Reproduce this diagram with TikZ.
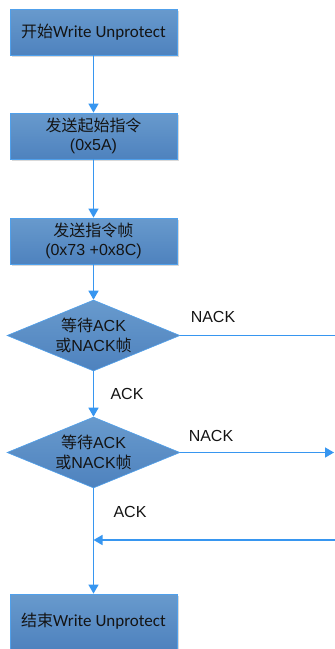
\documentclass[tikz,border=0pt]{standalone}
\usepackage{fontspec}
\setmainfont{Liberation Sans}
\newfontfamily\cjkfont{Noto Sans CJK SC}
\newfontfamily\calfont{Carlito}
\usetikzlibrary{shapes.geometric,arrows.meta,shadows}
\definecolor{boxtop}{RGB}{104,154,205}
\definecolor{boxbot}{RGB}{78,130,190}
\definecolor{boxedge}{RGB}{80,160,235}
\definecolor{arr}{RGB}{55,150,240}
\definecolor{txt}{RGB}{20,20,20}
\begin{document}
\begin{tikzpicture}[x=1pt,y=-1pt,
  every node/.style={text=txt,font=\fontsize{16}{19.5}\selectfont},
  procbox/.style={rectangle,minimum width=167pt,minimum height=46pt,inner sep=0pt,
    top color=boxtop,bottom color=boxbot,draw=boxedge,line width=0.8pt,align=center,
    drop shadow={shadow xshift=2pt,shadow yshift=-2pt,fill=black,opacity=0.15}},
  decbox/.style={diamond,aspect=2.44,minimum width=173pt,minimum height=71pt,inner sep=0pt,
    top color=boxtop,bottom color=boxbot,draw=boxedge,line width=0.6pt,align=center},
  conn/.style={draw=arr,line width=1.5pt},
  arrowc/.style={conn,-{Triangle[length=9pt,width=10pt]}},
  lbl/.style={font=\fontsize{16}{19}\selectfont}
]
\useasboundingbox (0,0) rectangle (335,649);
\node[procbox] (b1) at (93.5,32) {{\cjkfont 开始}{\calfont\fontsize{17}{20}\selectfont Write Unprotect}};
\node[procbox] (b2) at (93.5,136) {{\cjkfont 发送起始指令}\\(0x5A)};
\node[procbox] (b3) at (93.5,241) {{\cjkfont 发送指令帧}\\(0x73 +0x8C)};
\node[decbox] (d1) at (93.5,335.5) {{\cjkfont 等待}ACK\\{\cjkfont 或}NACK{\cjkfont 帧}};
\node[decbox] (d2) at (93.5,452.5) {{\cjkfont 等待}ACK\\{\cjkfont 或}NACK{\cjkfont 帧}};
\node[procbox,minimum height=55pt] (b4) at (93.5,621.5) {{\cjkfont 结束}{\calfont\fontsize{17}{20}\selectfont Write Unprotect}};
\coordinate (r1) at (335,335.5);
\coordinate (r2) at (334,452.5);
\coordinate (r3) at (335,540);
\coordinate (m) at (93.5,540);
\draw[arrowc] (b1) -- (b2);
\draw[arrowc] (b2) -- (b3);
\draw[arrowc] (b3) -- (d1);
\draw[arrowc] (d1) -- (d2);
\draw[conn] (d1.east) -- (r1);
\draw[arrowc] (d2.east) -- (r2);
\draw[arrowc] (d2) -- (b4);
\draw[arrowc] (r3) -- (m);
\node[lbl] (n1) at (213,317) {NACK};
\node[lbl] (a1) at (127,394) {ACK};
\node[lbl] (n2) at (211,436) {NACK};
\node[lbl] (a2) at (130,512) {ACK};
\end{tikzpicture}
\end{document}
